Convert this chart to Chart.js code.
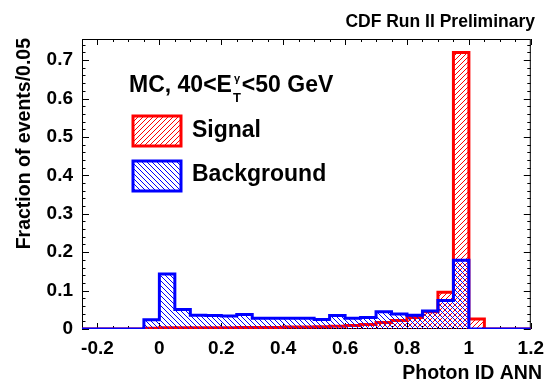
<!DOCTYPE html>
<html>
<head>
<meta charset="utf-8">
<script src="https://cdn.jsdelivr.net/npm/chart.js@4.4.0/dist/chart.umd.min.js"></script>
<style>
    html, body { margin: 0; padding: 0; background: #fff; }
    #wrap { width: 552px; height: 382px; }
</style>
</head>
<body>
<div id="wrap"><canvas id="myChart" width="552" height="382"></canvas></div>
<script>
// bin edges of the Photon ID ANN histogram (0.05 wide)
const binEdges = [-0.25, -0.2, -0.15, -0.1, -0.05, 0, 0.05, 0.1, 0.15, 0.2, 0.25, 0.3, 0.35, 0.4, 0.45,
    0.5, 0.55, 0.6, 0.65, 0.7, 0.75, 0.8, 0.85, 0.9, 0.95, 1, 1.05, 1.1, 1.15, 1.2]

// fraction of events per bin
const signal = [0, 0, 0, 0, 0.002, 0.003, 0.003, 0.003, 0.003, 0.003, 0.004, 0.004, 0.004, 0.005, 0.005,
    0.006, 0.007, 0.009, 0.012, 0.017, 0.022, 0.030, 0.045, 0.096, 0.720, 0.026, 0, 0, 0]
const background = [0, 0, 0, 0, 0.024, 0.143, 0.051, 0.036, 0.035, 0.034, 0.038, 0.028, 0.028, 0.028, 0.028,
    0.025, 0.035, 0.028, 0.030, 0.045, 0.039, 0.036, 0.047, 0.074, 0.179, 0, 0, 0, 0]

const xTickLabels = [-0.2, 0, 0.2, 0.4, 0.6, 0.8, 1, 1.2]
const yTickLabels = [0, 0.1, 0.2, 0.3, 0.4, 0.5, 0.6, 0.7]

const fontName = "'Liberation Sans', Arial, Helvetica, sans-serif"

let canvas = document.getElementById("myChart")
let ctx = canvas.getContext("2d")

function hatch(color, dir) {
    let s = 5
    let c = document.createElement("canvas")
    c.width = s
    c.height = s
    let g = c.getContext("2d")
    g.strokeStyle = color
    g.lineWidth = 1
    g.beginPath()
    if (dir == "/") {
        g.moveTo(0, s); g.lineTo(s, 0)
        g.moveTo(-1, 1); g.lineTo(1, -1)
        g.moveTo(s - 1, s + 1); g.lineTo(s + 1, s - 1)
    } else {
        g.moveTo(0, 0); g.lineTo(s, s)
        g.moveTo(-1, s - 1); g.lineTo(1, s + 1)
        g.moveTo(s - 1, -1); g.lineTo(s + 1, 1)
    }
    g.stroke()
    return ctx.createPattern(c, "repeat")
}

const redHatch = hatch("#ff0000", "/")
const blueHatch = hatch("#0000ff", "\\")

// one point per bin edge, the last edge repeats the last bin
function steps(values) {
    return binEdges.map((e, i) => ({ x: e, y: values[Math.min(i, values.length - 1)] }))
}

const frame = {
    id: "frame",
    beforeDatasetsDraw(chart) {
        let c = chart.ctx
        let a = chart.chartArea
        let xs = chart.scales.x
        let ys = chart.scales.y
        c.save()
        c.strokeStyle = "#000"
        c.lineWidth = 1
        c.strokeRect(a.left + 0.5, a.top + 0.5, a.right - a.left - 1, a.bottom - a.top - 1)

        // inward ticks, ROOT style
        c.beginPath()
        for (let v = -0.25; v <= 1.2001; v += 0.05) {
            let px = Math.round(xs.getPixelForValue(v)) + 0.5
            let major = xTickLabels.some(t => Math.abs(t - v) < 1e-6)
            let len = major ? 6 : 3
            c.moveTo(px, a.bottom); c.lineTo(px, a.bottom - len)
            c.moveTo(px, a.top); c.lineTo(px, a.top + len)
        }
        for (let v = 0; v <= 0.75; v += 0.02) {
            let py = Math.round(ys.getPixelForValue(v)) + 0.5
            let major = yTickLabels.some(t => Math.abs(t - v) < 1e-6)
            let len = major ? 7 : 3.5
            c.moveTo(a.left, py); c.lineTo(a.left + len, py)
            c.moveTo(a.right, py); c.lineTo(a.right - len, py)
        }
        c.stroke()
        c.restore()
    },
    afterDraw(chart) {
        let c = chart.ctx
        c.save()
        c.fillStyle = "#000"
        c.textBaseline = "alphabetic"

        c.font = "bold 17.5px " + fontName
        c.textAlign = "right"
        c.fillText("CDF Run II Preliminary", 535, 27)

        // axis titles, ROOT puts them at the far end
        c.font = "bold 19.5px " + fontName
        c.fillText("Photon ID ANN", 542, 379)
        c.save()
        c.translate(30, 38)
        c.rotate(-Math.PI / 2)
        c.textAlign = "right"
        c.fillText("Fraction of events/0.05", 0, 0)
        c.restore()

        // legend title with E_T^gamma
        c.textAlign = "left"
        c.font = "bold 23px " + fontName
        let x = 129
        let base = 92
        c.fillText("MC, 40<E", x, base)
        x += c.measureText("MC, 40<E").width + 1
        c.font = "bold 13px " + fontName
        c.fillText("T", x, base + 10)
        let wT = c.measureText("T").width
        c.font = "bold 11px " + fontName
        c.fillText("\u03b3", x + 1, base - 10)
        x += wT + 1
        c.font = "bold 23px " + fontName
        c.fillText("<50 GeV", x, base)

        // legend entries
        let entries = [
            { label: "Signal", fill: redHatch, line: "#ff0000", y: 116, base: 137 },
            { label: "Background", fill: blueHatch, line: "#0000ff", y: 161, base: 181 }
        ]
        entries.forEach(en => {
            c.fillStyle = en.fill
            c.fillRect(133, en.y, 48, 30)
            c.strokeStyle = en.line
            c.lineWidth = 3
            c.strokeRect(133, en.y, 48, 30)
            c.fillStyle = "#000"
            c.font = "bold 23px " + fontName
            c.fillText(en.label, 192, en.base)
        })
        c.restore()
    }
}

const data = {
    datasets: [
        {
            label: "Background",
            data: steps(background),
            stepped: true,
            borderColor: "#0000ff",
            backgroundColor: blueHatch,
            borderWidth: 3,
            fill: "origin",
            pointRadius: 0
        },
        {
            label: "Signal",
            data: steps(signal),
            stepped: true,
            borderColor: "#ff0000",
            backgroundColor: redHatch,
            borderWidth: 3,
            fill: "origin",
            pointRadius: 0
        }
    ]
}

const config = {
    type: "line",
    data: data,
    options: {
        responsive: false,
        animation: false,
        layout: { padding: { top: 39, right: 13, left: 0, bottom: 0 } },
        plugins: {
            legend: { display: false },
            tooltip: { enabled: false }
        },
        scales: {
            x: {
                type: "linear",
                min: -0.25,
                max: 1.2,
                grid: { display: false, drawTicks: false },
                border: { display: false },
                afterBuildTicks: s => { s.ticks = xTickLabels.map(v => ({ value: v })) },
                afterFit: s => { s.height = 53 },
                ticks: {
                    color: "#000",
                    padding: 8,
                    maxRotation: 0,
                    autoSkip: false,
                    font: { family: fontName, size: 19, weight: "bold" },
                    callback: v => String(v)
                }
            },
            y: {
                min: 0,
                max: 0.755,
                grid: { display: false, drawTicks: false },
                border: { display: false },
                afterBuildTicks: s => { s.ticks = yTickLabels.map(v => ({ value: v })) },
                afterFit: s => { s.width = 82 },
                ticks: {
                    color: "#000",
                    padding: 9,
                    font: { family: fontName, size: 19, weight: "bold" },
                    callback: v => String(v)
                }
            }
        }
    },
    plugins: [frame]
}

const myChart = new Chart(canvas, config)
</script>
</body>
</html>
